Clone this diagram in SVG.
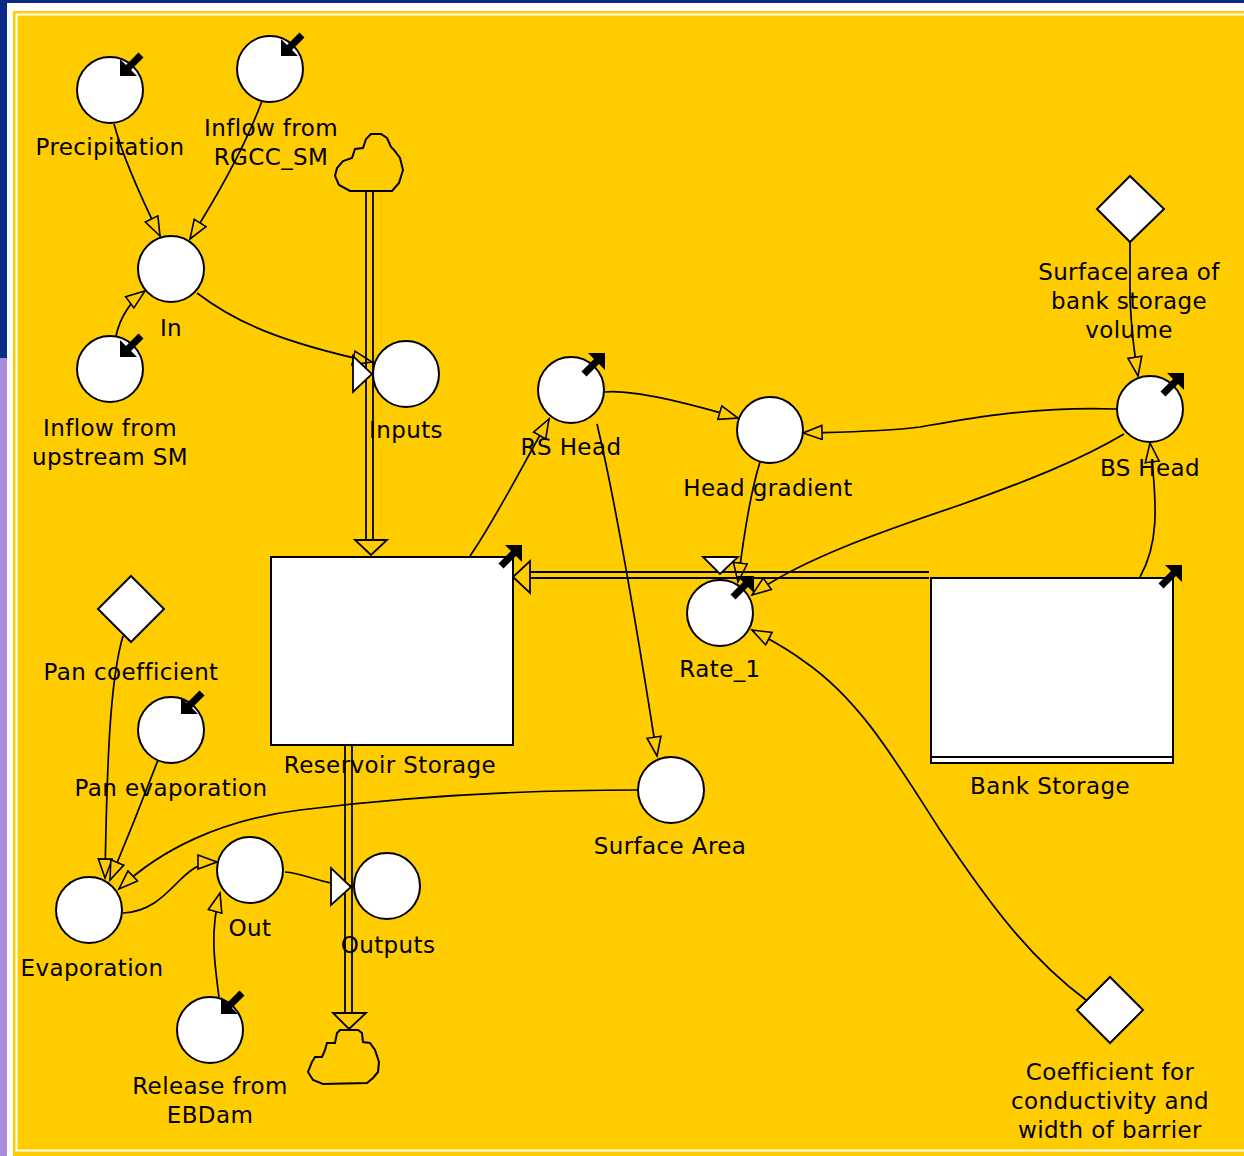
<svg xmlns="http://www.w3.org/2000/svg" width="1244" height="1156" viewBox="0 0 1244 1156">
<style>
.n{fill:#fff;stroke:#000;stroke-width:2}
.c{fill:none;stroke:#000;stroke-width:1.7}
.p{fill:none;stroke:#000;stroke-width:1.8}
.t{font-family:"DejaVu Sans",Verdana,sans-serif;font-size:23px;letter-spacing:0.4px;fill:#000;text-anchor:middle}
</style>
<defs>
<marker id="a" markerWidth="24" markerHeight="18" refX="20" refY="8" orient="auto" markerUnits="userSpaceOnUse">
<path d="M1,1 L20,8 L1,15 Z" fill="#FFCC00" stroke="#000" stroke-width="1.6"/>
</marker>
<g id="mk"><polygon points="0,0 -17,0 0,17" fill="#000"/><line x1="-6" y1="6" x2="-21" y2="21" stroke="#000" stroke-width="7"/></g>
</defs>
<rect x="0" y="0" width="1244" height="1156" fill="#0B2B86"/>
<rect x="0" y="358" width="7" height="798" fill="#A88BD9"/>
<rect x="7" y="3" width="1237" height="1153" fill="#fff"/>
<rect x="13" y="11" width="1231" height="1145" fill="#FFCC00"/>
<rect x="16.5" y="14.5" width="1240" height="1136" fill="none" stroke="#fff" stroke-width="2"/>

<g id="connectors">
<path class="c" marker-end="url(#a)" d="M114,124 Q125,165 160,236"/>
<path class="c" marker-end="url(#a)" d="M262,101 Q240,160 190,239"/>
<path class="c" marker-end="url(#a)" d="M116,336 Q122,308 145,291"/>
<path class="c" marker-end="url(#a)" d="M197,293 C235,322 280,342 372,362"/>
<path class="c" marker-end="url(#a)" d="M470,556 C495,520 520,470 549,419"/>
<path class="c" marker-end="url(#a)" d="M605,392 Q640,389 738,418"/>
<path class="c" marker-end="url(#a)" d="M597,424 Q620,520 657,756"/>
<path class="c" marker-end="url(#a)" d="M1116,409 C1030,406 960,420 920,427 C880,432 840,432 803,433"/>
<path class="c" marker-end="url(#a)" d="M1124,434 C1080,460 1030,480 960,505 C880,532 800,560 752,595"/>
<path class="c" marker-end="url(#a)" d="M760,462 Q748,500 738,582"/>
<path class="c" marker-end="url(#a)" d="M1086,1000 C1030,958 990,905 940,830 C895,760 860,700 805,662 Q785,647 752,630"/>
<path class="c" marker-end="url(#a)" d="M1140,577 C1158,545 1158,510 1150,443"/>
<path class="c" marker-end="url(#a)" d="M1130,241 L1130,300 Q1132,340 1138,376"/>
<path class="c" marker-end="url(#a)" d="M123,636 C110,680 107,760 105,878"/>
<path class="c" marker-end="url(#a)" d="M158,760 Q135,820 110,880"/>
<path class="c" marker-end="url(#a)" d="M637,790 C540,790 420,795 300,810 C220,820 160,850 119,889"/>
<path class="c" marker-end="url(#a)" d="M123,913 C150,912 165,895 180,880 C195,865 205,862 217,862"/>
<path class="c" marker-end="url(#a)" d="M219,997 C214,960 210,930 220,893"/>
<path class="c" marker-end="url(#a)" d="M285,872 C305,873 320,884 351,886"/>
</g>

<g id="flows">
<line class="p" x1="366" y1="191" x2="366" y2="540"/>
<line class="p" x1="373" y1="191" x2="373" y2="540"/>
<polygon points="355,540 387,540 371,555" fill="#FFCC00" stroke="#000" stroke-width="1.8"/>
<line class="p" x1="345" y1="745" x2="345" y2="1013"/>
<line class="p" x1="352" y1="745" x2="352" y2="1013"/>
<polygon points="333,1013 366,1013 349,1029" fill="#FFCC00" stroke="#000" stroke-width="1.8"/>
<line class="p" x1="529" y1="572" x2="929" y2="572"/>
<line class="p" x1="529" y1="578" x2="929" y2="578"/>
<polygon points="530,561 530,593 513,577" fill="#FFCC00" stroke="#000" stroke-width="1.8"/>
</g>

<g id="cloud-top"><path fill="#FFCC00" stroke="#000" stroke-width="2" d="M350,191 L392,191 L399,183 L403,170 L400,158 L394,150 L391,147 L387,138 L381,134 L371,134 L366,139 L363,148 L355,149 L352,158 L343,161 L337,168 L335,176 L339,185 Z"/></g>
<g id="cloud-bottom"><path fill="#FFCC00" stroke="#000" stroke-width="2" d="M340,1030 L358,1030 L362,1033 L363,1042 L370,1043 L375,1050 L379,1062 L378,1072 L373,1078 L367,1083 L323,1084 L313,1080 L308,1072 L312,1062 L315,1057 L322,1057 L325,1050 L327,1043 L335,1043 L337,1033 Z"/></g>

<g id="reservoir-storage">
<rect class="n" x="271" y="557" width="242" height="188"/>
<use href="#mk" transform="translate(522,545)"/>
<text class="t" x="390" y="773">Reservoir Storage</text>
</g>
<g id="bank-storage">
<rect class="n" x="931" y="578" width="242" height="185"/>
<line x1="931" y1="757" x2="1173" y2="757" stroke="#000" stroke-width="2"/>
<use href="#mk" transform="translate(1182,565)"/>
<text class="t" x="1050" y="794">Bank Storage</text>
</g>

<g id="precipitation"><circle class="n" cx="110" cy="90" r="33"/><use href="#mk" transform="translate(120,76) rotate(180)"/><text class="t" x="110" y="155">Precipitation</text></g>
<g id="inflow-rgcc"><circle class="n" cx="270" cy="69" r="33"/><use href="#mk" transform="translate(281,56) rotate(180)"/><text class="t" x="271" y="136">Inflow from</text><text class="t" x="271" y="165">RGCC_SM</text></g>
<g id="in"><circle class="n" cx="171" cy="269" r="33"/><text class="t" x="171" y="336">In</text></g>
<g id="inflow-upstream"><circle class="n" cx="110" cy="369" r="33"/><use href="#mk" transform="translate(120,357) rotate(180)"/><text class="t" x="110" y="436">Inflow from</text><text class="t" x="110" y="465">upstream SM</text></g>
<g id="inputs"><polygon points="353,356 353,392 372,374" fill="#fff" stroke="#000" stroke-width="1.8"/><circle class="n" cx="406" cy="374" r="33"/><text class="t" x="406" y="438">Inputs</text></g>
<g id="rs-head"><circle class="n" cx="571" cy="390" r="33"/><use href="#mk" transform="translate(605,353)"/><text class="t" x="571" y="455">RS Head</text></g>
<g id="head-gradient"><circle class="n" cx="770" cy="430" r="33"/><text class="t" x="768" y="496">Head gradient</text></g>
<g id="bs-head"><circle class="n" cx="1150" cy="409" r="33"/><use href="#mk" transform="translate(1184,373)"/><text class="t" x="1150" y="476">BS Head</text></g>
<g id="surface-area-bank"><polygon class="n" points="1130,176 1164,209 1130,242 1097,209"/><text class="t" x="1129" y="280">Surface area of</text><text class="t" x="1129" y="309">bank storage</text><text class="t" x="1129" y="338">volume</text></g>
<g id="rate-1"><polygon points="703,557 738,557 720,574" fill="#fff" stroke="#000" stroke-width="1.8"/><circle class="n" cx="720" cy="613" r="33"/><use href="#mk" transform="translate(754,576)"/><text class="t" x="720" y="677">Rate_1</text></g>
<g id="pan-coefficient"><polygon class="n" points="131,576 164,609 131,642 98,609"/><text class="t" x="131" y="680">Pan coefficient</text></g>
<g id="pan-evaporation"><circle class="n" cx="171" cy="730" r="33"/><use href="#mk" transform="translate(181,714) rotate(180)"/><text class="t" x="171" y="796">Pan evaporation</text></g>
<g id="surface-area"><circle class="n" cx="671" cy="790" r="33"/><text class="t" x="670" y="854">Surface Area</text></g>
<g id="evaporation"><circle class="n" cx="89" cy="910" r="33"/><text class="t" x="92" y="976">Evaporation</text></g>
<g id="out"><circle class="n" cx="250" cy="870" r="33"/><text class="t" x="250" y="936">Out</text></g>
<g id="outputs"><polygon points="331,868 331,905 351,887" fill="#fff" stroke="#000" stroke-width="1.8"/><circle class="n" cx="387" cy="886" r="33"/><text class="t" x="388" y="953">Outputs</text></g>
<g id="release"><circle class="n" cx="210" cy="1030" r="33"/><use href="#mk" transform="translate(221,1014) rotate(180)"/><text class="t" x="210" y="1094">Release from</text><text class="t" x="210" y="1123">EBDam</text></g>
<g id="coefficient"><polygon class="n" points="1110,977 1143,1010 1110,1043 1077,1010"/><text class="t" x="1110" y="1080">Coefficient for</text><text class="t" x="1110" y="1109">conductivity and</text><text class="t" x="1110" y="1138">width of barrier</text></g>
</svg>
